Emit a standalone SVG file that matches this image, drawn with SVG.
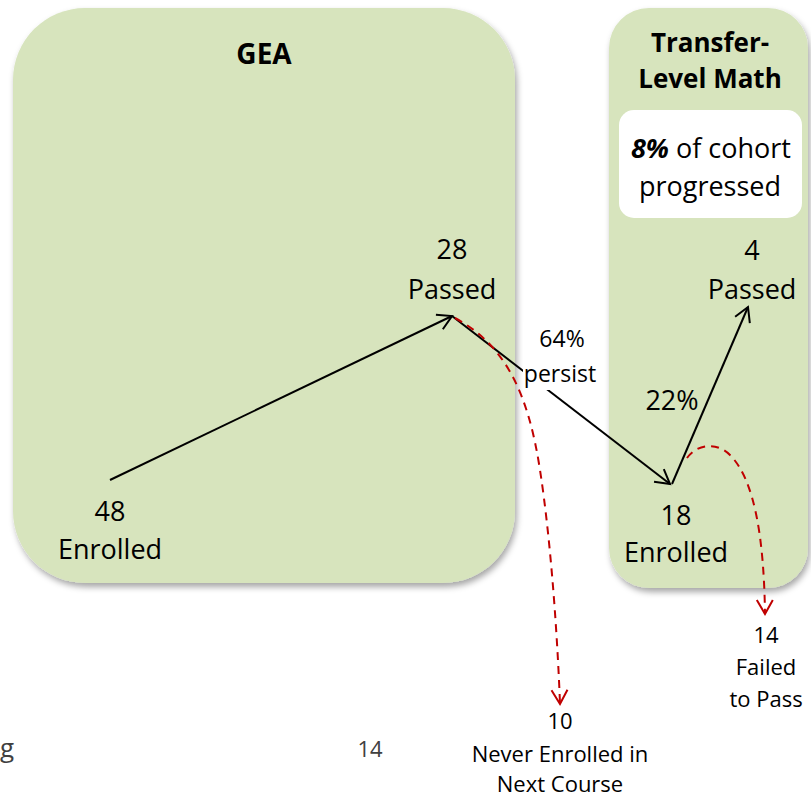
<svg xmlns="http://www.w3.org/2000/svg" width="811" height="799" viewBox="0 0 811 799">
<style>
.t{font-family:"Open Sans","Noto Sans","Liberation Sans",sans-serif;fill:#000;text-anchor:middle}
.b{font-weight:bold}
.box{fill:#d7e4bd;filter:url(#sh)}
.ln{fill:none;stroke:#000;stroke-width:2}
.rd{fill:none;stroke:#c00000;stroke-width:2;stroke-dasharray:8 6}
</style>
<defs>
<filter id="sh" x="-10%" y="-10%" width="120%" height="120%">
<feDropShadow dx="2" dy="4" stdDeviation="3" flood-color="#000" flood-opacity="0.35"/>
</filter>
<marker id="ab" markerUnits="userSpaceOnUse" markerWidth="30" markerHeight="30" refX="0" refY="0" viewBox="-20 -15 30 30" orient="auto" overflow="visible">
<path d="M-14,-8 L0,0 L-14,8" fill="none" stroke="#000" stroke-width="2"/>
</marker>
<marker id="ar" markerUnits="userSpaceOnUse" markerWidth="30" markerHeight="30" refX="0" refY="0" viewBox="-20 -15 30 30" orient="auto" overflow="visible">
<path d="M-14,-8 L0,0 L-14,8" fill="none" stroke="#c00000" stroke-width="2" stroke-dasharray="none"/>
</marker>
</defs>
<rect width="811" height="799" fill="#fff"/>
<g id="gea">
<rect class="box" x="13" y="8" width="502" height="575" rx="72"/>
<text class="t b" x="264" y="64" font-size="28">GEA</text>
</g>
<g id="tlm">
<rect class="box" x="609" y="8" width="199" height="580" rx="40"/>
<text class="t b" x="710" y="52" font-size="26">Transfer-</text>
<text class="t b" x="710" y="88" font-size="26">Level Math</text>
<rect x="619" y="110" width="183" height="108" rx="15" fill="#fff"/>
<text class="t" x="711" y="158" font-size="27"><tspan font-weight="bold" font-style="italic">8%</tspan> of cohort</text>
<text class="t" x="710" y="196" font-size="27">progressed</text>
</g>
<g id="connectors">
<path class="ln" d="M110,480 L452,316" marker-end="url(#ab)"/>
<path class="ln" d="M452,316 L670,484" marker-end="url(#ab)"/>
<path class="ln" d="M672,484 L748,307" marker-end="url(#ab)"/>
<path class="rd" d="M455,318 C505,345 528,392 540,470 S558,650 560,704" marker-end="url(#ar)"/>
<path class="rd" d="M687,458 C695,446 715,440 730,455 C755,480 764,540 765,614" marker-end="url(#ar)"/>
</g>
<g id="persist">
<rect x="523" y="322" width="78" height="68" fill="#fff"/>
<text class="t" x="562" y="347" font-size="23">64%</text>
<text class="t" x="560" y="382" font-size="23">persist</text>
</g>
<g id="gea-enrolled">
<text class="t" x="110" y="521" font-size="27">48</text>
<text class="t" x="110" y="559" font-size="27">Enrolled</text>
</g>
<g id="gea-passed">
<text class="t" x="452" y="259" font-size="27">28</text>
<text class="t" x="452" y="299" font-size="27">Passed</text>
</g>
<g id="tlm-enrolled">
<text class="t" x="676" y="525" font-size="27">18</text>
<text class="t" x="676" y="562" font-size="27">Enrolled</text>
</g>
<g id="tlm-passed">
<text class="t" x="752" y="260" font-size="27">4</text>
<text class="t" x="752" y="299" font-size="27">Passed</text>
</g>
<g id="pct22">
<text class="t" x="672" y="410" font-size="27">22%</text>
</g>
<g id="failed">
<text class="t" x="766" y="643" font-size="22">14</text>
<text class="t" x="766" y="675" font-size="22">Failed</text>
<text class="t" x="766" y="707" font-size="22">to Pass</text>
</g>
<g id="never">
<text class="t" x="560" y="729" font-size="22">10</text>
<text class="t" x="560" y="762" font-size="22">Never Enrolled in</text>
<text class="t" x="560" y="792" font-size="22">Next Course</text>
</g>
<g id="footer">
<text class="t" x="7" y="757" font-size="26" style="fill:#404040">g</text>
<text class="t" x="370" y="757" font-size="22" style="fill:#404040">14</text>
</g>
</svg>
